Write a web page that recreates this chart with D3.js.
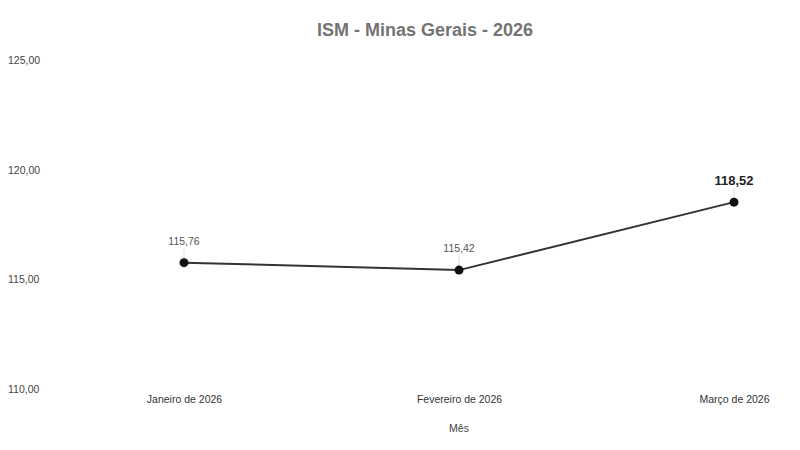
<!DOCTYPE html>
<html>
<head>
<meta charset="utf-8">
<script src="https://cdn.jsdelivr.net/npm/d3@7"></script>
<style>
  body { margin: 0; background: #fff; }
  text { font-family: "Liberation Sans", Arial, sans-serif; }
</style>
</head>
<body>
<div id="chart"></div>
<script>
// Data
const months = ["Janeiro de 2026", "Fevereiro de 2026", "Março de 2026"];
const ismValues = [115.76, 115.42, 118.52];
const yTicks = [110, 115, 120, 125];

const width = 800, height = 450;
const margin = { top: 60, right: 66, bottom: 61, left: 184 };

const svg = d3.select("#chart").append("svg")
    .attr("width", width)
    .attr("height", height);

// Scales
const x = d3.scalePoint()
    .domain(months)
    .range([margin.left, width - margin.right]);

const y = d3.scaleLinear()
    .domain([110, 125])
    .range([height - margin.bottom, margin.top]);

const fmt = v => d3.format(".2f")(v).replace(".", ",");

// Title
svg.append("text")
    .attr("x", 425)
    .attr("y", 36)
    .attr("text-anchor", "middle")
    .style("font-size", "18px")
    .style("font-weight", "bold")
    .style("fill", "#737373")
    .text("ISM - Minas Gerais - 2026");

// Y axis labels (no line, no ticks)
const yAxis = d3.axisLeft(y).tickValues(yTicks).tickFormat(fmt).tickSize(0);
const yG = svg.append("g")
    .attr("transform", "translate(8,0)")
    .call(yAxis);
yG.select(".domain").remove();
yG.selectAll("text")
    .attr("x", 0)
    .attr("text-anchor", "start")
    .style("font-size", "10.5px")
    .style("fill", "#444")
    .style("font-family", "'Liberation Sans', Arial, sans-serif");

// X axis labels
const xAxis = d3.axisBottom(x).tickSize(0);
const xG = svg.append("g")
    .attr("transform", "translate(0," + (height - margin.bottom) + ")")
    .call(xAxis);
xG.select(".domain").remove();
xG.selectAll("text")
    .attr("dy", "1.05em")
    .style("font-size", "10.5px")
    .style("fill", "#333")
    .style("font-family", "'Liberation Sans', Arial, sans-serif");

// X axis title
svg.append("text")
    .attr("x", x(months[1]))
    .attr("y", 432)
    .attr("text-anchor", "middle")
    .style("font-size", "10.5px")
    .style("fill", "#444")
    .text("Mês");

const points = months.map((m, i) => ({ month: m, value: ismValues[i], last: i === months.length - 1 }));

// Line
const line = d3.line()
    .x(d => x(d.month))
    .y(d => y(d.value));

svg.append("path")
    .datum(points)
    .attr("fill", "none")
    .attr("stroke", "#333")
    .attr("stroke-width", 2)
    .attr("d", line);

// Leader lines from labels to points
svg.selectAll(".leader")
    .data(points)
    .enter().append("line")
    .attr("class", "leader")
    .attr("x1", d => x(d.month))
    .attr("x2", d => x(d.month))
    .attr("y1", d => y(d.value) - 14)
    .attr("y2", d => y(d.value) - 4)
    .attr("stroke", "#ddd")
    .attr("stroke-width", 1);

// Points
svg.selectAll(".dot")
    .data(points)
    .enter().append("circle")
    .attr("class", "dot")
    .attr("cx", d => x(d.month))
    .attr("cy", d => y(d.value))
    .attr("r", 4.5)
    .attr("fill", "#111");

// Value labels
svg.selectAll(".val")
    .data(points)
    .enter().append("text")
    .attr("class", "val")
    .attr("x", d => x(d.month))
    .attr("y", d => y(d.value) - (d.last ? 17 : 18))
    .attr("text-anchor", "middle")
    .style("font-size", d => d.last ? "13px" : "10.5px")
    .style("font-weight", d => d.last ? "bold" : "normal")
    .style("fill", d => d.last ? "#222" : "#555")
    .text(d => fmt(d.value));
</script>
</body>
</html>
